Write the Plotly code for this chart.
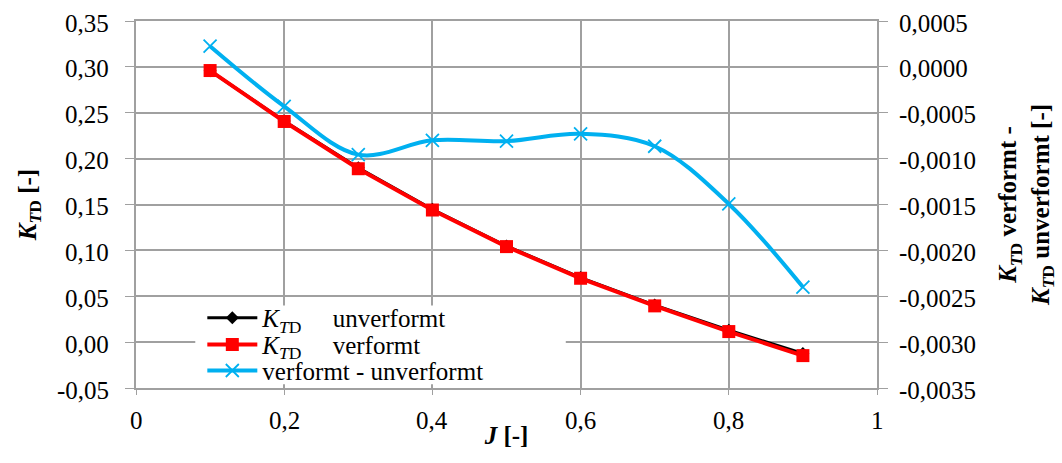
import plotly.graph_objects as go

# Advance ratio J
J = [0.1, 0.2, 0.3, 0.4, 0.5, 0.6, 0.7, 0.8, 0.9]

# Thrust coefficient K_TD, undeformed and deformed propeller
kt_unverformt = [0.2958, 0.2409, 0.1900, 0.1448, 0.1048, 0.0703, 0.0404, 0.0130, -0.0123]
kt_verformt = [0.2960, 0.2405, 0.1890, 0.1440, 0.1041, 0.0696, 0.0395, 0.0115, -0.0147]

# Difference deformed minus undeformed (right axis)
kt_diff = [0.000225, -0.00043, -0.000956, -0.00080, -0.00081, -0.00073, -0.000865, -0.001494, -0.00240]

# Tick positions and labels (comma decimal)
x_tickvals = [0, 0.2, 0.4, 0.6, 0.8, 1.0]
x_ticktext = ["0", "0,2", "0,4", "0,6", "0,8", "1"]
y_tickvals = [-0.05, 0.0, 0.05, 0.10, 0.15, 0.20, 0.25, 0.30, 0.35]
y_ticktext = ["-0,05", "0,00", "0,05", "0,10", "0,15", "0,20", "0,25", "0,30", "0,35"]
y2_tickvals = [-0.0035, -0.003, -0.0025, -0.002, -0.0015, -0.001, -0.0005, 0.0, 0.0005]
y2_ticktext = ["-0,0035", "-0,0030", "-0,0025", "-0,0020", "-0,0015",
               "-0,0010", "-0,0005", "0,0000", "0,0005"]

FONT = "Liberation Serif"
GRID = "#a0a0a0"
KTD = "<i>K</i><sub><i>T</i>D</sub>"
SP = "&nbsp;" * 5
LABEL_FONT = dict(family=FONT, size=25, color="black")

fig = go.Figure()

fig.add_trace(go.Scatter(
    x=J, y=kt_unverformt, mode="lines+markers",
    name=KTD + SP + "unverformt",
    line=dict(color="black", width=3),
    marker=dict(symbol="diamond", size=10, color="black"),
    legend="legend",
))
fig.add_trace(go.Scatter(
    x=J, y=kt_verformt, mode="lines+markers",
    name=KTD + SP + "verformt",
    line=dict(color="#ff0000", width=4),
    marker=dict(symbol="square", size=13, color="#ff0000"),
    legend="legend2",
))
fig.add_trace(go.Scatter(
    x=J, y=kt_diff, mode="lines+markers", yaxis="y2",
    name="verformt - unverformt",
    line=dict(color="#00b0f0", width=4, shape="spline", smoothing=1),
    marker=dict(symbol="x-thin", size=13, line=dict(color="#00b0f0", width=1.8)),
    legend="legend3",
))

legend_common = dict(
    font=LABEL_FONT,
    bgcolor="rgba(0,0,0,0)", borderwidth=0,
    xanchor="left", yanchor="middle", x=0.0895,
    itemwidth=50,
)

# Tick labels set as serif text next to each axis
tick_labels = []
for v, t in zip(y_tickvals, y_ticktext):
    tick_labels.append(dict(
        text=t, xref="paper", x=0, yref="y", y=v,
        xanchor="right", yanchor="middle", xshift=-25, yshift=-2,
        showarrow=False, font=LABEL_FONT,
    ))
for v, t in zip(y2_tickvals, y2_ticktext):
    tick_labels.append(dict(
        text=t, xref="paper", x=1, yref="y2", y=v,
        xanchor="left", yanchor="middle", xshift=20, yshift=-2,
        showarrow=False, font=LABEL_FONT,
    ))
for v, t in zip(x_tickvals, x_ticktext):
    tick_labels.append(dict(
        text=t, xref="x", x=v, yref="paper", y=0,
        xanchor="center", yanchor="middle", yshift=-32,
        showarrow=False, font=LABEL_FONT,
    ))

fig.update_layout(
    width=1062, height=463,
    margin=dict(l=136, r=185, t=21, b=75),
    paper_bgcolor="white", plot_bgcolor="white",
    font=LABEL_FONT,
    showlegend=True,
    legend=dict(**legend_common, y=0.191),
    legend2=dict(**legend_common, y=0.118),
    legend3=dict(**legend_common, y=0.047),
    xaxis=dict(
        range=[0, 1], tickvals=x_tickvals, showticklabels=False,
        showgrid=True, gridcolor=GRID, gridwidth=1.5,
        showline=True, linecolor=GRID, linewidth=1.5, mirror=True,
        ticks="outside", ticklen=5, tickcolor=GRID,
        zeroline=False,
        title=dict(text="<b><i>J</i> [-]</b>", font=LABEL_FONT, standoff=33),
    ),
    yaxis=dict(
        range=[-0.05, 0.35], tickvals=y_tickvals, showticklabels=False,
        showgrid=True, gridcolor=GRID, gridwidth=1.5,
        showline=True, linecolor=GRID, linewidth=1.5,
        ticks="outside", ticklen=9, tickcolor=GRID,
        zeroline=False,
        title=dict(text="<b>" + KTD + " [-]</b>", font=LABEL_FONT, standoff=82),
    ),
    yaxis2=dict(
        range=[-0.0035, 0.0005], tickvals=y2_tickvals, showticklabels=False,
        overlaying="y", side="right",
        showgrid=False,
        showline=True, linecolor=GRID, linewidth=1.5,
        ticks="outside", ticklen=9, tickcolor=GRID,
        zeroline=False,
        title=dict(
            text="<b>" + KTD + " verformt -<br>" + KTD + " unverformt [-]</b>",
            font=LABEL_FONT, standoff=112,
        ),
    ),
    annotations=tick_labels,
    # white backing panel behind the legend entries
    shapes=[dict(
        type="rect", xref="x domain", yref="y domain",
        x0=0.08, x1=0.58, y0=0.01, y1=0.225,
        fillcolor="white", line=dict(width=0), layer="above",
    )],
)

fig.write_html("out.html")
